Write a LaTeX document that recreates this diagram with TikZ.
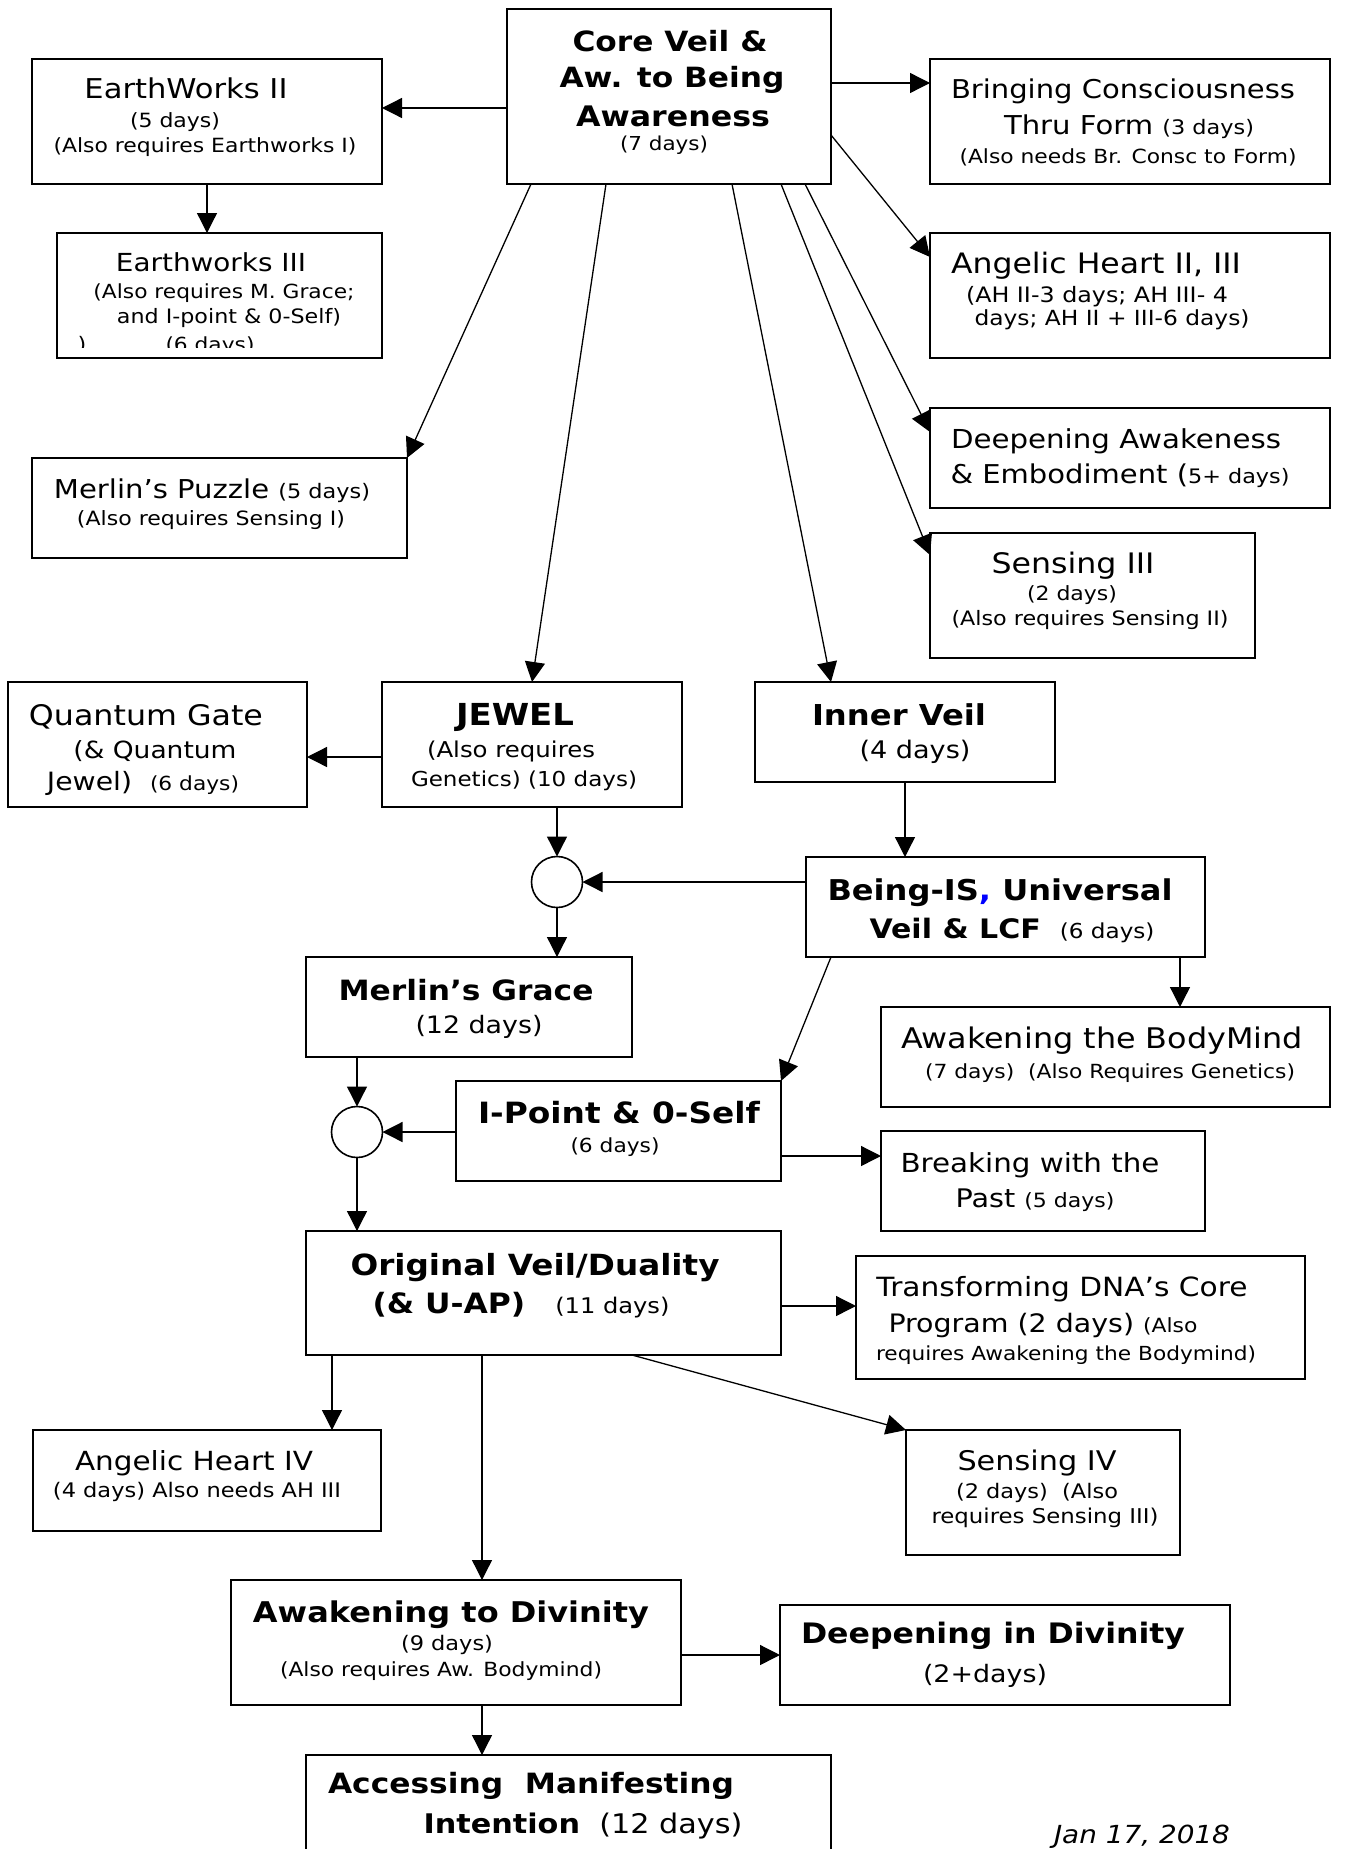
\documentclass[tikz,border=0pt]{standalone}
\usepackage{fontspec}
\setmainfont{DejaVu Sans}[FakeStretch=1.12]
\usepackage{graphicx}
\usetikzlibrary{arrows.meta}

\newcommand\BX[5]{\node[boxst, minimum width={#4-#2}, minimum height={#5-#3}] (#1) at ({(#2+#4)/2},{(#3+#5)/2}) {};}
\newcommand\LN[4]{\node[txt] (#1) at (#2) {\resizebox{#3pt}{!}{#4}};}
\newcommand\Sm[1]{{\fontsize{20}{24}\selectfont #1}}

\begin{document}
\begin{tikzpicture}[x=1pt,y=-1pt,
  boxst/.style={draw, rectangle, line width=1.8pt, inner sep=0pt, outer sep=0pt},
  circst/.style={draw, circle, line width=1.6pt, minimum size=51pt, inner sep=0pt, outer sep=0pt},
  txt/.style={anchor=base, inner sep=0pt, outer sep=0pt, font=\fontsize{26}{30}\selectfont},
  arr/.style={line width=1.3pt, -{Triangle[length=20pt,width=20pt]}}]
\clip (0,0) rectangle (1344,1849);
\fill[white] (0,0) rectangle (1344,1849);

% boxes
\BX{core}{507}{9}{831}{184}
\BX{ew2}{32}{59}{382}{184}
\BX{ew3}{57}{233}{382}{358}
\BX{br}{930}{59}{1330}{184}
\BX{ah23}{930}{233}{1330}{358}
\BX{mp}{32}{458}{407}{558}
\BX{da}{930}{408}{1330}{508}
\BX{s3}{930}{533}{1255}{658}
\BX{qg}{8}{682}{307}{807}
\BX{jewel}{382}{682}{682}{807}
\BX{iv}{755}{682}{1055}{782}
\BX{bis}{806}{857}{1205}{957}
\BX{mg}{306}{957}{632}{1057}
\BX{ab}{881}{1007}{1330}{1107}
\BX{ip}{456}{1081}{781}{1181}
\BX{brk}{881}{1131}{1205}{1231}
\BX{ov}{306}{1231}{781}{1355}
\BX{tr}{856}{1256}{1305}{1379}
\BX{ah4}{33}{1430}{381}{1531}
\BX{s4}{906}{1430}{1180}{1555}
\BX{atd}{231}{1580}{681}{1705}
\BX{did}{780}{1605}{1230}{1705}
\BX{ami}{306}{1755}{831}{1880}
\node[circst] (c1) at (557,882) {};
\node[circst] (c2) at (357,1132) {};

% texts
\LN{ew2a}{186,99}{203}{EarthWorks II}
\LN{ew2b}{175,128}{90}{(5 days)}
\LN{ew2c}{205,152}{303}{(Also requires Earthworks I)}

\LN{ew3a}{211,271}{190}{Earthworks III}
\LN{ew3b}{224,298}{261}{(Also requires M. Grace;}
\LN{ew3c}{229,323}{224}{and I-point \& 0-Self)}
\begin{scope}
\clip (57,233) rectangle (382,347);
\LN{ew3d}{210,351}{89}{(6 days)}
\node[txt, font=\fontsize{20}{24}\selectfont] (ew3e) at (82,351) {)};
\end{scope}

\LN{corea}{670,52}{195}{\bfseries Core Veil \&}
\LN{coreb}{672,88}{225}{\bfseries Aw. to Being}
\LN{corec}{673,127}{194}{\bfseries Awareness}
\LN{cored}{664,150}{88}{(7 days)}

\LN{bra}{1123,99}{344}{Bringing Consciousness}
\LN{brb}{1129,135}{250}{Thru Form \Sm{(3 days)}}
\LN{brc}{1128,163}{337}{(Also needs Br. Consc to Form)}

\LN{aha}{1096,273}{290}{Angelic Heart II, III}
\LN{ahb}{1097,302}{262}{(AH II-3 days; AH III- 4}
\LN{ahc}{1112,325}{275}{days; AH II + III-6 days)}

\LN{mpa}{212,498}{316}{Merlin’s Puzzle \Sm{(5 days)}}
\LN{mpb}{211,525}{268}{(Also requires Sensing I)}

\LN{daa}{1116,448}{330}{Deepening Awakeness}
\LN{dab}{1120,483}{339}{\& Embodiment (\Sm{5+ days)}}

\LN{s3a}{1073,573}{163}{Sensing III}
\LN{s3b}{1072,600}{90}{(2 days)}
\LN{s3c}{1090,625}{277}{(Also requires Sensing II)}

\LN{qga}{146,725}{234}{Quantum Gate}
\LN{qgb}{155,758}{163}{(\& Quantum}
\LN{qgc}{143,790}{192}{Jewel)\ \ \Sm{(6 days)}}

\LN{jwa}{515,725}{118}{\bfseries JEWEL}
\LN{jwb}{511,757}{168}{(Also requires}
\LN{jwc}{524,786}{226}{Genetics) (10 days)}

\LN{iva}{899,725}{174}{\bfseries Inner Veil}
\LN{ivb}{915,758}{111}{(4 days)}

\LN{bisa}{1000,900}{345}{\bfseries Being-IS{\color{blue},} Universal}
\LN{bisb}{1012,938}{285}{{\bfseries Veil \& LCF}\ \ \Sm{(6 days)}}

\LN{mga}{466,1000}{255}{\bfseries Merlin’s Grace}
\LN{mgb}{479,1033}{127}{(12 days)}

\LN{aba}{1102,1048}{402}{Awakening the BodyMind}
\LN{abb}{1110,1078}{370}{(7 days)\ \ (Also Requires Genetics)}

\LN{ipa}{619,1123}{282}{\bfseries I-Point \& 0-Self}
\LN{ipb}{615,1152}{89}{(6 days)}

\LN{brka}{1030,1172}{259}{Breaking with the}
\LN{brkb}{1035,1207}{159}{Past \Sm{(5 days)}}

\LN{ova}{535,1275}{369}{\bfseries Original Veil/Duality}
\LN{ovb}{521,1313}{297}{{\bfseries (\& U-AP)}\ \ \ \Sm{(11 days)}}

\LN{tra}{1062,1296}{371}{Transforming DNA’s Core}
\LN{trb}{1043,1332}{309}{Program (2 days) \Sm{(Also}}
\LN{trc}{1066,1360}{380}{requires Awakening the Bodymind)}

\LN{ah4a}{194,1470}{238}{Angelic Heart IV}
\LN{ah4b}{197,1497}{288}{(4 days) Also needs AH III}

\LN{s4a}{1037,1470}{159}{Sensing IV}
\LN{s4b}{1037,1498}{162}{(2 days)\ \ (Also}
\LN{s4c}{1045,1523}{227}{requires Sensing III)}

\LN{atda}{451,1622}{396}{\bfseries Awakening to Divinity}
\LN{atdb}{447,1650}{92}{(9 days)}
\LN{atdc}{441,1676}{322}{(Also requires Aw. Bodymind)}

\LN{dida}{993,1643}{384}{\bfseries Deepening in Divinity}
\LN{didb}{985,1682}{124}{(2+days)}

\LN{amia}{531,1793}{406}{\bfseries Accessing\ \ Manifesting}
\LN{amib}{583,1833}{319}{{\bfseries Intention}\ \ (12 days)}

\LN{date}{1142,1843}{176}{\itshape Jan 17, 2018}

% connectors
\draw[arr] ([yshift=-99pt]core.north west) -- ([yshift=-49pt]ew2.north east);
\draw[arr] ([yshift=-74pt]core.north east) -- ([yshift=-24pt]br.north west);
\draw[arr] ([yshift=-126pt]core.north east) -- ([yshift=-24pt]ah23.north west);
\draw[arr] ([xshift=24pt]core.south west) -- (mp.north east);
\draw[arr] ([xshift=99pt]core.south west) -- ([xshift=150pt]jewel.north west);
\draw[arr] ([xshift=225pt]core.south west) -- ([xshift=76pt]iv.north west);
\draw[arr] ([xshift=274pt]core.south west) -- ([yshift=-22pt]s3.north west);
\draw[arr] ([xshift=298pt]core.south west) -- ([yshift=-24pt]da.north west);
\draw[arr] ([xshift=175pt]ew2.south west) -- ([xshift=150pt]ew3.north west);
\draw[arr] ([yshift=-75pt]jewel.north west) -- ([yshift=-75pt]qg.north east);
\draw[arr] ([xshift=175pt]jewel.south west) -- (c1.north);
\draw[arr] ([xshift=150pt]iv.south west) -- ([xshift=99pt]bis.north west);
\draw[arr] ([yshift=-25pt]bis.north west) -- (c1.east);
\draw[arr] (c1.south) -- ([xshift=251pt]mg.north west);
\draw[arr] ([xshift=374pt]bis.south west) -- ([xshift=299pt]ab.north west);
\draw[arr] ([xshift=25pt]bis.south west) -- (ip.north east);
\draw[arr] ([xshift=51pt]mg.south west) -- (c2.north);
\draw[arr] ([yshift=-51pt]ip.north west) -- (c2.east);
\draw[arr] ([yshift=-75pt]ip.north east) -- ([yshift=-25pt]brk.north west);
\draw[arr] (c2.south) -- ([xshift=51pt]ov.north west);
\draw[arr] ([yshift=-75pt]ov.north east) -- ([yshift=-50pt]tr.north west);
\draw[arr] ([xshift=26pt]ov.south west) -- ([xshift=299pt]ah4.north west);
\draw[arr] ([xshift=176pt]ov.south west) -- ([xshift=251pt]atd.north west);
\draw[arr] ([xshift=326pt]ov.south west) -- (s4.north west);
\draw[arr] ([yshift=-75pt]atd.north east) -- ([yshift=-50pt]did.north west);
\draw[arr] ([xshift=251pt]atd.south west) -- ([xshift=176pt]ami.north west);
\end{tikzpicture}
\end{document}
